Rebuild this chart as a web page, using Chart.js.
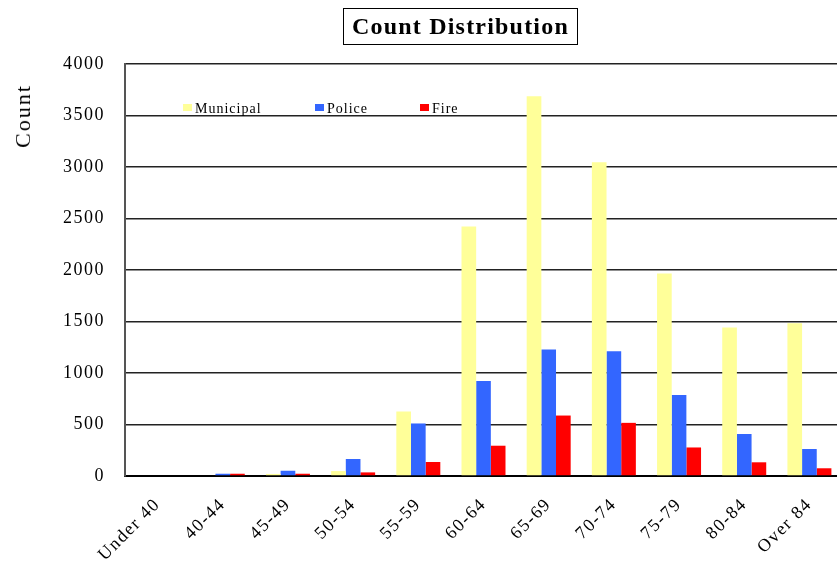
<!DOCTYPE html>
<html>
<head>
<meta charset="utf-8">
<script src="https://cdn.jsdelivr.net/npm/chart.js@4.4.1/dist/chart.umd.min.js"></script>
<style>
  html, body { margin: 0; padding: 0; background: #fff; overflow: hidden; }
  #wrap { position: relative; width: 845px; height: 562px; }
  #chartTitle {
    position: absolute; left: 343px; top: 8px; width: 233px; height: 35px;
    border: 1.5px solid #000; box-sizing: content-box;
    font: bold 24px 'Liberation Serif', 'Times New Roman', serif;
    letter-spacing: 1.2px; line-height: 35px; text-align: center; color: #000;
  }
  #yTitle {
    position: absolute; left: 23px; top: 116px;
    transform: translate(-50%, -50%) rotate(-90deg);
    font: 22px 'Liberation Serif', 'Times New Roman', serif;
    letter-spacing: 2px; color: #000; white-space: nowrap;
  }
</style>
</head>
<body>
<div id="wrap">
  <canvas id="chart" width="845" height="562"></canvas>
  <div id="chartTitle">Count Distribution</div>
  <div id="yTitle">Count</div>
</div>
<script>
// data
const ageGroups = ['Under 40', '40-44', '45-49', '50-54', '55-59', '60-64', '65-69', '70-74', '75-79', '80-84', 'Over 84'];
const municipal = [0, 0, 20, 48, 627, 2423, 3686, 3045, 1966, 1441, 1484];
const police = [0, 22, 51, 165, 510, 922, 1228, 1211, 786, 408, 262];
const fire = [0, 22, 22, 35, 136, 294, 587, 516, 277, 133, 75];
const yTicks = [0, 500, 1000, 1500, 2000, 2500, 3000, 3500, 4000];

const seriesNames = ['Municipal', 'Police', 'Fire'];
const seriesColors = ['#FFFF99', '#3366FF', '#FF0000'];

const serif = "'Liberation Serif', 'Times New Roman', serif";

// the reference text is drawn a bit wide, so widen canvas text too
const spacingPlugin = {
  id: 'spacing',
  beforeUpdate(chart) { chart.ctx.letterSpacing = '1.5px'; },
  beforeLayout(chart) { chart.ctx.letterSpacing = '1.5px'; },
  beforeDraw(chart) { chart.ctx.letterSpacing = '1.5px'; }
};

// legend sits inside the plot near the top, not centred
const insideLegend = {
  id: 'insideLegend',
  afterDraw(chart) {
    const ctx = chart.ctx;
    const area = chart.chartArea;
    const offsets = [58, 190, 295];
    ctx.save();
    ctx.letterSpacing = '1px';
    ctx.font = '14px ' + serif;
    ctx.textBaseline = 'alphabetic';
    chart.data.datasets.forEach((ds, i) => {
      const x = area.left + offsets[i];
      const y = area.top + 40;
      ctx.fillStyle = ds.backgroundColor;
      ctx.fillRect(x, y, 9, 7);
      ctx.fillStyle = '#000';
      ctx.fillText(ds.label, x + 12, y + 9);
    });
    ctx.restore();
  }
};

const ctx = document.getElementById('chart').getContext('2d');
new Chart(ctx, {
  type: 'bar',
  data: {
    labels: ageGroups,
    datasets: [municipal, police, fire].map((values, i) => ({
      label: seriesNames[i],
      data: values,
      backgroundColor: seriesColors[i],
      borderWidth: 0,
      categoryPercentage: 0.675,
      barPercentage: 1
    }))
  },
  options: {
    responsive: false,
    animation: false,
    layout: { padding: { top: 64, right: 3, left: 0, bottom: 0 } },
    plugins: {
      legend: { display: false },
      title: { display: false },
      tooltip: { enabled: false }
    },
    scales: {
      x: {
        grid: { display: false, drawTicks: false },
        border: { display: true, color: '#000', width: 2 },
        ticks: {
          color: '#000',
          font: { family: serif, size: 18 },
          minRotation: 45,
          maxRotation: 45,
          autoSkip: false,
          padding: 18
        },
        afterFit(scale) {
          scale.height = 86;
          scale.paddingLeft = 0;
          scale.paddingRight = 0;
        }
      },
      y: {
        min: 0,
        max: 4000,
        afterBuildTicks(scale) { scale.ticks = yTicks.map(v => ({ value: v })); },
        grid: { color: '#222', lineWidth: 1.5, drawTicks: false },
        border: { display: true, color: '#555', width: 2 },
        ticks: {
          color: '#000',
          font: { family: serif, size: 18 },
          padding: 20,
          callback: v => String(v)
        },
        afterFit(scale) { scale.width = 125; }
      }
    }
  },
  plugins: [spacingPlugin, insideLegend]
});
</script>
</body>
</html>
